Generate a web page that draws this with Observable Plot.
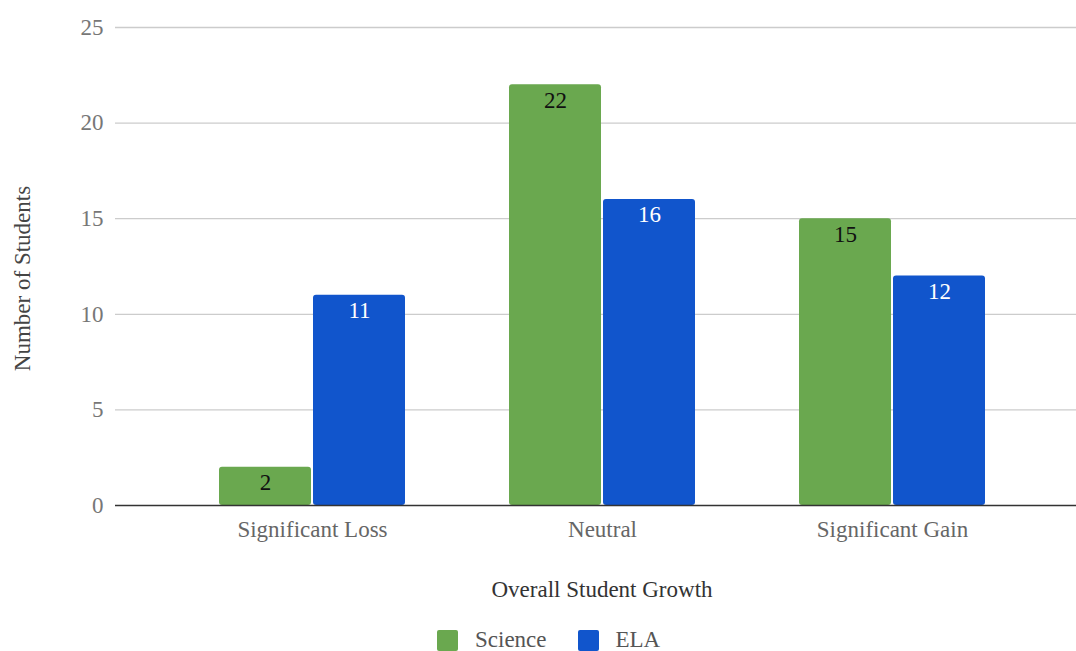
<!DOCTYPE html>
<html>
<head>
<meta charset="utf-8">
<script src="https://cdn.jsdelivr.net/npm/d3@7"></script>
<script src="https://cdn.jsdelivr.net/npm/@observablehq/plot@0.6"></script>
<style>
  html, body { margin: 0; padding: 0; background: #fff; }
  body { width: 1076px; height: 651px; overflow: hidden; font-family: 'Liberation Serif', serif; }
  #legend { display: flex; justify-content: flex-start; align-items: center; padding-top: 9px; padding-left: 437px; height: 22px; font-size: 23px; line-height: 22px; color: #555; }
  #legend .item { display: flex; align-items: center; margin-right: 31px; }
  #legend .swatch { width: 21px; height: 21px; border-radius: 2px; margin-right: 17px; }
</style>
</head>
<body>
<div id="chart"></div>
<div id="legend"></div>
<script>
// Student growth counts by category, per subject
const categories = ["Significant Loss", "Neutral", "Significant Gain"];
const scienceValues = [2, 22, 15];
const elaValues = [11, 16, 12];
const yTicks = [0, 5, 10, 15, 20, 25];
const seriesNames = ["Science", "ELA"];
const seriesColors = ["#6aa84f", "#1155cc"];

const serif = "Liberation Serif";
const fs = 23;

const science = categories.map((c, i) => ({category: c, series: "Science", value: scienceValues[i]}));
const ela = categories.map((c, i) => ({category: c, series: "ELA", value: elaValues[i]}));

const chart = Plot.plot({
  width: 1076,
  height: 620,
  marginLeft: 115,
  marginRight: 0,
  marginTop: 27,
  marginBottom: 115,
  style: {fontFamily: serif, fontSize: fs + "px", background: "#fff"},
  x: {domain: categories, range: [115, 1089], padding: 0.3586, label: null},
  y: {domain: [0, 25], label: null},
  color: {domain: seriesNames, range: seriesColors},
  marks: [
    Plot.ruleY(yTicks.filter(t => t > 0), {stroke: "#cccccc", strokeWidth: 1.3}),
    Plot.axisY({ticks: yTicks, tickSize: 0, tickPadding: 12, label: null, color: "#777", fontSize: fs, fontFamily: serif}),
    Plot.axisX({tickSize: 0, tickPadding: 15, label: null, color: "#666", fontSize: fs, fontFamily: serif}),
    // grouped bars: Science on the left half of each band, ELA on the right half
    Plot.barY(science, {x: "category", y: "value", fill: "series", insetRight: 94, rx: 3}),
    Plot.barY(ela, {x: "category", y: "value", fill: "series", insetLeft: 94, rx: 3}),
    Plot.ruleY([0], {stroke: "#333", strokeWidth: 1.6}),
    Plot.text(science, {x: "category", y: "value", text: d => String(d.value), dx: -47, dy: 15.5, fill: "#111", fontSize: fs, fontFamily: serif}),
    Plot.text(ela, {x: "category", y: "value", text: d => String(d.value), dx: 47, dy: 15.5, fill: "#fff", fontSize: fs, fontFamily: serif}),
    Plot.text(["Number of Students"], {text: d => d, frameAnchor: "left", textAnchor: "middle", rotate: -90, dx: -93, dy: 12, fill: "#444", fontSize: fs, fontFamily: serif}),
    Plot.text(["Overall Student Growth"], {text: d => d, frameAnchor: "bottom", dx: 6, dy: 91, fill: "#333", fontSize: fs, fontFamily: serif})
  ]
});
document.getElementById("chart").appendChild(chart);

const legend = document.getElementById("legend");
seriesNames.forEach((name, i) => {
  const item = document.createElement("div");
  item.className = "item";
  const sw = document.createElement("span");
  sw.className = "swatch";
  sw.style.background = seriesColors[i];
  const label = document.createElement("span");
  label.textContent = name;
  item.appendChild(sw);
  item.appendChild(label);
  legend.appendChild(item);
});
</script>
</body>
</html>
